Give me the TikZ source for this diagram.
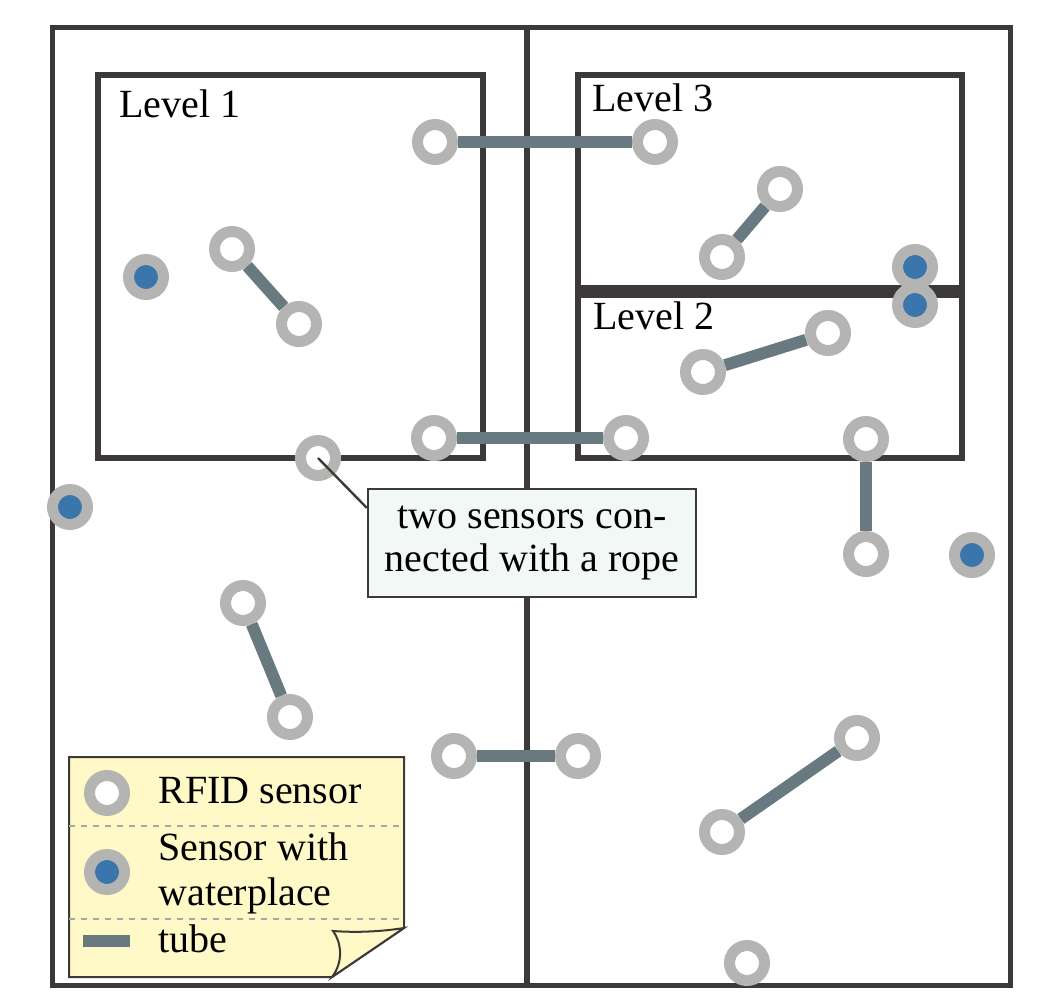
\documentclass[tikz,border=0pt]{standalone}
\usepackage{fontspec}
\setmainfont{Liberation Serif}
\definecolor{wallgray}{RGB}{61,57,56}
\definecolor{ringgray}{RGB}{180,180,178}
\definecolor{waterblue}{RGB}{58,118,171}
\definecolor{tubegray}{RGB}{105,121,128}
\definecolor{notefill}{RGB}{242,248,246}
\definecolor{paperfill}{RGB}{255,249,200}
\begin{document}
\begin{tikzpicture}[x=0.5pt,y=-0.5pt,
  sensor/.style={circle,draw=ringgray,line width=5.5pt,fill=white,minimum size=17.5pt,inner sep=0pt},
  wet/.style={sensor,fill=waterblue},
  pipe/.style={draw=tubegray,line width=6pt},
  lvl/.style={anchor=base west,inner sep=0pt,font=\fontsize{20}{22.5}\selectfont}]
\useasboundingbox (0,0) rectangle (1059,995);
\draw[wallgray,line width=2.5pt] (52,28) rectangle (1010,985);
\draw[wallgray,line width=3pt] (527,28) -- (527,985);
\draw[wallgray,line width=3pt] (98,75) rectangle (483,458);
\draw[wallgray,line width=3pt] (578,75) rectangle (962,458);
\draw[wallgray,line width=6.5pt] (578,291) -- (962,291);
\node[lvl] (L1) at (119,118) {Level 1};
\node[lvl] (L3) at (592,112) {Level 3};
\node[lvl] (L2) at (593,329) {Level 2};
\node[wet] (w1) at (146,277) {};
\node[sensor] (a1) at (232,249) {};
\node[sensor] (a2) at (299,324) {};
\node[sensor] (b1) at (435,142) {};
\node[sensor] (b2) at (655,142) {};
\node[sensor] (c1) at (434,438) {};
\node[sensor] (c2) at (626,438) {};
\node[sensor] (r) at (318,458) {};
\node[wet] (w2) at (70,507) {};
\node[sensor] (d1) at (243,603) {};
\node[sensor] (d2) at (290,717) {};
\node[sensor] (e1) at (454,756) {};
\node[sensor] (e2) at (578,756) {};
\node[sensor] (f1) at (722,257) {};
\node[sensor] (f2) at (780,189) {};
\node[wet] (w3) at (915,267) {};
\node[wet] (w4) at (915,305) {};
\node[sensor] (g1) at (703,372) {};
\node[sensor] (g2) at (828,333) {};
\node[sensor] (h1) at (866,439) {};
\node[sensor] (h2) at (866,554) {};
\node[wet] (w5) at (972,555) {};
\node[sensor] (k1) at (722,832) {};
\node[sensor] (k2) at (857,738) {};
\node[sensor] (m) at (747,963) {};
\foreach \s/\t in {a1/a2,b1/b2,c1/c2,d1/d2,e1/e2,f1/f2,g1/g2,h1/h2,k1/k2}
  \draw[pipe] (\s) -- (\t);
\node[draw=wallgray,line width=1.2pt,fill=notefill,minimum width=164pt,minimum height=54pt,
  align=center,font=\fontsize{20}{21.5}\selectfont] (N) at (532,543)
  {two sensors con-\\nected with a rope};
\draw[wallgray,line width=1.2pt] (r.center) -- (N.168);
\draw[wallgray,line width=1pt,fill=paperfill] (69,757) -- (404,757) -- (404,928) -- (332,977) -- (69,977) -- cycle;
\draw[wallgray,line width=1pt,fill=paperfill] (332,977) .. controls (345,960) and (340,940) .. (333,931)
  .. controls (360,933) and (385,931) .. (404,928) -- cycle;
\draw[gray!70,dashed,line width=0.6pt] (69,826) -- (404,826) (69,919) -- (404,919);
\node[sensor] (S1) at (107,793) {};
\node[wet] (S2) at (107,872) {};
\draw[pipe] (83,941) -- (130,941);
\node[lvl] (T1) at (158,803) {RFID sensor};
\node[lvl,anchor=west,align=left] (T2) at (158,873) {Sensor with\\waterplace};
\node[lvl] (T3) at (158,952) {tube};
\end{tikzpicture}
\end{document}
